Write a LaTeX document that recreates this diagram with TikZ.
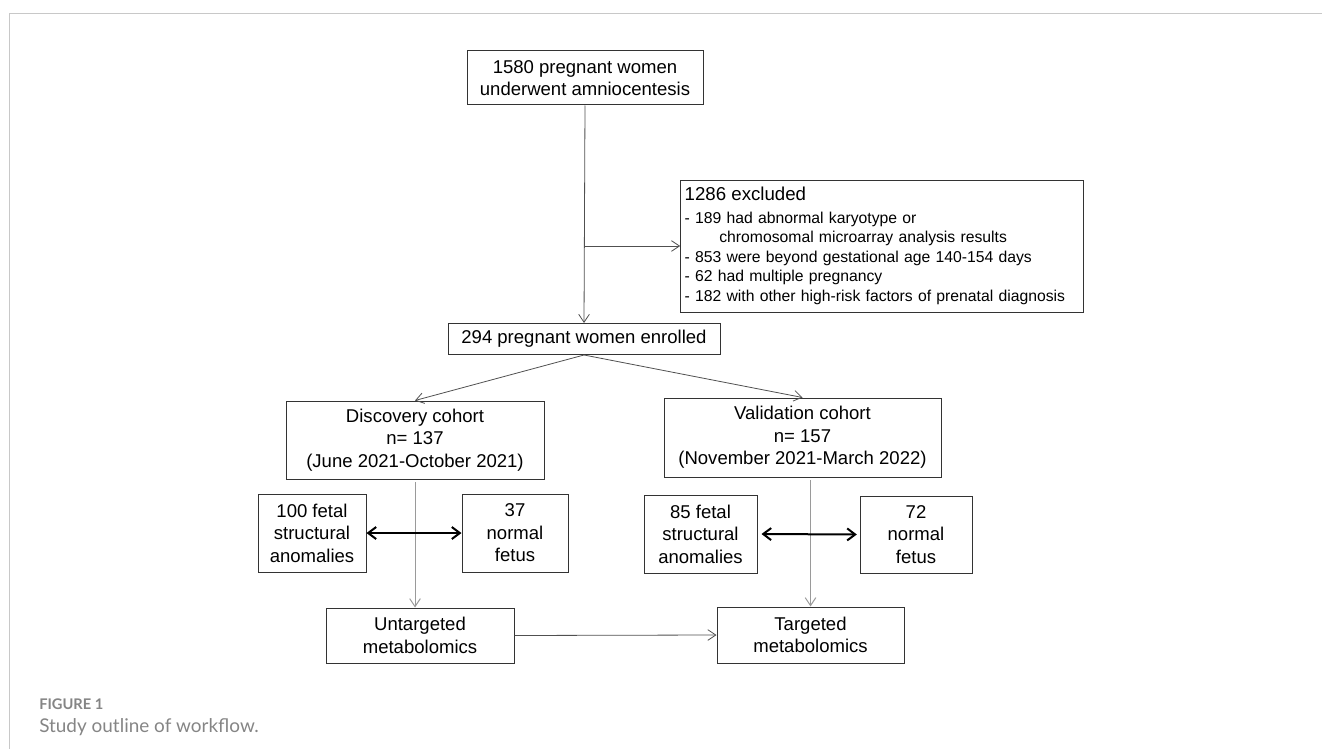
\documentclass[tikz,border=0pt]{standalone}
\usepackage{fontspec}
\setmainfont{Liberation Sans}
\newfontfamily\capfont{Lato}
\usetikzlibrary{arrows.meta,positioning}
\definecolor{boxgray}{HTML}{333333}
\definecolor{linegray}{HTML}{505050}
\definecolor{lightline}{HTML}{9A9A9A}
\definecolor{framegray}{HTML}{C8C8C8}
\definecolor{capgray}{HTML}{858585}

\begin{document}
\begin{tikzpicture}[x=0.75pt,y=-0.75pt,
    box/.style={draw=boxgray,line width=0.75pt,align=center,inner sep=2pt,
      font=\fontsize{13.9}{16.8}\selectfont},
    flow/.style={draw=linegray,line width=0.6pt,-{Straight Barb[length=6pt,width=8pt]}},
    down/.style={draw=lightline,line width=0.75pt,-{Straight Barb[length=6pt,width=8pt]}},
    pair/.style={draw=black,line width=1.5pt,{Straight Barb[length=6pt,width=9pt]}-{Straight Barb[length=6pt,width=9pt]}}]
	\useasboundingbox (0,0) rectangle (1322,749);
	\draw[framegray,line width=0.75pt] (9,749) -- (9,14) -- (1322,14);

	\node[box,minimum width=177pt,minimum height=40.5pt] (start) at (585,78) {1580 pregnant women\\underwent amniocentesis};
	\node[box,minimum width=302pt,minimum height=99pt,align=left,text width=296pt,inner xsep=3pt,
	      font=\fontsize{11.8}{14.7}\selectfont] (excl) at (882,246)
	      {{\fontsize{14}{14.7}\selectfont 1286 excluded}\\[2pt]
	       - 189 had abnormal karyotype or\\
	       \hspace*{26pt}chromosomal microarray analysis results\\
	       - 853 were beyond gestational age 140-154 days\\
	       - 62 had multiple pregnancy\\
	       - 182 with other high-risk factors of prenatal diagnosis};
	\node[box,minimum width=204pt,minimum height=23.25pt] (enrolled) at (584,339) {294 pregnant women enrolled};

	\node[box,minimum width=193.5pt,minimum height=58.5pt] (disc) at (415,440) {Discovery cohort\\n= 137\\(June 2021-October 2021)};
	\node[box,minimum width=207.75pt,minimum height=59.25pt] (valid) at (802.5,437.5) {Validation cohort\\n= 157\\(November 2021-March 2022)};

	\node[box,minimum width=81pt,minimum height=58.5pt] (danom) at (312,533) {100 fetal\\structural\\anomalies};
	\node[box,minimum width=79.5pt,minimum height=58.5pt] (dnorm) at (515,533) {37\\normal\\fetus};
	\node[box,minimum width=84.75pt,minimum height=58.5pt] (vanom) at (700.5,534) {85 fetal\\structural\\anomalies};
	\node[box,minimum width=84pt,minimum height=57.75pt] (vnorm) at (916,534.5) {72\\normal\\fetus};

	\node[box,minimum width=141pt,minimum height=41.25pt] (untarg) at (420,635.5) {Untargeted\\metabolomics};
	\node[box,minimum width=140.25pt,minimum height=42pt] (targ) at (810.5,635) {Targeted\\metabolomics};

	\coordinate (branch) at (start.south |- excl.west);
	\draw[flow] (start.south) -- (enrolled.north);
	\draw[flow] (branch) -- (excl.west);
	\draw[flow] (enrolled.south) -- (disc.north);
	\draw[flow] (enrolled.south) -- (valid.north);
	\draw[down,shorten <=2pt] (disc.south) -- (disc.south |- untarg.north);
	\draw[down,shorten <=2pt] (valid.south -| targ.north) -- (targ.north);
	\draw[pair] (danom.east) -- (dnorm.west);
	\draw[pair,shorten <=3pt,shorten >=2pt] (vanom.east) -- (vnorm.west);
	\draw[flow] (untarg.east) -- (targ.west);

	\node[anchor=west,inner sep=0pt,text=capgray,font=\capfont\bfseries\fontsize{11}{13}\selectfont] (fig) at (39,704) {FIGURE 1};
	\node[anchor=west,inner sep=0pt,text=capgray,font=\capfont\fontsize{14.2}{16}\selectfont] (caption) at (39,727) {Study outline of workflow.};
\end{tikzpicture}
\end{document}
